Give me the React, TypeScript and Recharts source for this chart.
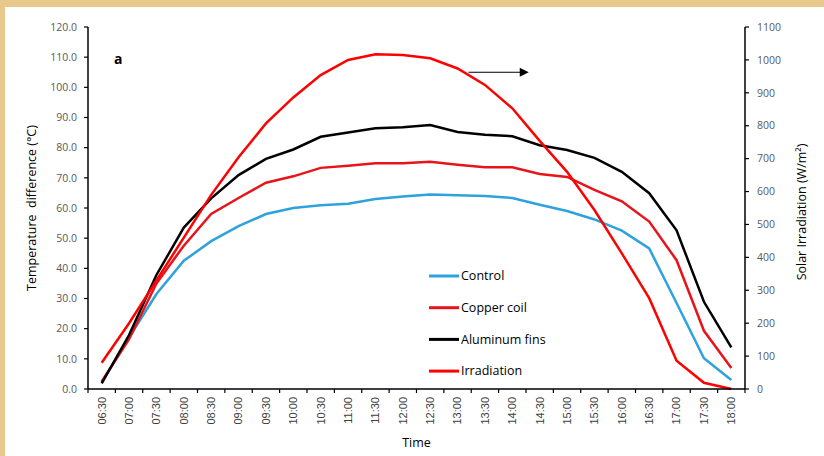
import React from "react";
import { LineChart, Line, XAxis, YAxis, ReferenceLine } from "recharts";

const times = [
  "06:30", "07:00", "07:30", "08:00", "08:30", "09:00", "09:30", "10:00",
  "10:30", "11:00", "11:30", "12:00", "12:30", "13:00", "13:30", "14:00",
  "14:30", "15:00", "15:30", "16:00", "16:30", "17:00", "17:30", "18:00",
];
const control = [2.2, 17.0, 31.5, 42.5, 49.0, 54.0, 58.0, 60.0, 60.9, 61.4, 63.0, 63.8, 64.5, 64.2, 64.0, 63.3, 61.1, 59.0, 56.2, 52.5, 46.6, 28.5, 10.2, 3.0];
const copperCoil = [2.5, 16.5, 35.0, 47.5, 58.0, 63.3, 68.4, 70.5, 73.3, 74.0, 74.8, 74.8, 75.3, 74.3, 73.5, 73.5, 71.3, 70.3, 66.0, 62.2, 55.5, 42.7, 19.3, 7.0];
const aluminumFins = [1.9, 17.9, 37.8, 53.5, 63.2, 70.9, 76.3, 79.4, 83.6, 85.0, 86.4, 86.8, 87.5, 85.2, 84.3, 83.8, 80.8, 79.2, 76.6, 72.0, 64.9, 52.6, 28.9, 13.8];
const irradiation = [80, 200, 330, 460, 590, 704, 807, 886, 954, 1000, 1017, 1015, 1005, 974, 924, 853, 754, 660, 544, 412, 276, 86, 19, 0];

const series = [
  { key: "control", name: "Control", color: "#2ea2dc", axis: "left" },
  { key: "copper", name: "Copper coil", color: "#e8141c", axis: "left" },
  { key: "aluminum", name: "Aluminum fins", color: "#000000", axis: "left" },
  { key: "irr", name: "Irradiation", color: "#ff0000", axis: "right" },
];

const leftTicks = [0, 10, 20, 30, 40, 50, 60, 70, 80, 90, 100, 110, 120];
const rightTicks = [0, 100, 200, 300, 400, 500, 600, 700, 800, 900, 1000, 1100];
const centerTicks = times.map((_, i) => i + 0.5);

const arrowSegment = [
  { x: 13.9, y: 105 },
  { x: 16.1, y: 105 },
];

const data = times.map((t, i) => ({
  x: i + 0.5,
  time: t,
  control: control[i],
  copper: copperCoil[i],
  aluminum: aluminumFins[i],
  irr: irradiation[i],
}));

const tickFont = "'Open Sans', 'DejaVu Sans', sans-serif";

const TimeTick = (props: any) => {
  const { x, y, payload, width } = props;
  const idx = Math.round(payload.value - 0.5);
  const hb = (width || 657) / (2 * times.length);
  const ty = y + 8;
  return (
    <g>
      <line x1={x - hb} x2={x - hb} y1={y} y2={y + 4} stroke="#000" strokeWidth={1.2} />
      {idx === times.length - 1 && (
        <line x1={x + hb} x2={x + hb} y1={y} y2={y + 4} stroke="#000" strokeWidth={1.2} />
      )}
      <text
        x={x}
        y={ty}
        transform={`rotate(-90, ${x}, ${ty})`}
        textAnchor="end"
        dy="0.35em"
        fontSize={11}
        fill="#404040"
        fontFamily="'Liberation Sans', Arial, sans-serif"
      >
        {times[idx]}
      </text>
    </g>
  );
};

const ArrowShape = (props: any) => {
  const { x1, y1, x2, y2 } = props;
  if (x1 == null || x2 == null) return null;
  return (
    <g>
      <line x1={x1} y1={y1} x2={x2 - 8} y2={y2} stroke="#000" strokeWidth={1} />
      <polygon points={`${x2},${y2} ${x2 - 9},${y2 - 4.5} ${x2 - 9},${y2 + 4.5}`} fill="#000" />
    </g>
  );
};

const LeftTitle = (props: any) => {
  const vb = props.viewBox;
  const cx = vb.x + 32;
  const cy = vb.y + vb.height / 2;
  return (
    <text
      x={cx}
      y={cy}
      transform={`rotate(-90, ${cx}, ${cy})`}
      textAnchor="middle"
      dy="0.35em"
      fontSize={12.5}
      fill="#000"
      fontFamily={tickFont}
      style={{ whiteSpace: "pre" }}
    >
      {"Temperature  difference (°C)"}
    </text>
  );
};

const RightTitle = (props: any) => {
  const vb = props.viewBox;
  const cx = vb.x + 57;
  const cy = vb.y + vb.height / 2 + 4;
  return (
    <text
      x={cx}
      y={cy}
      transform={`rotate(-90, ${cx}, ${cy})`}
      textAnchor="middle"
      dy="0.35em"
      fontSize={12.5}
      fill="#000"
      fontFamily={tickFont}
    >
      {"Solar Irradiation (W/m²)"}
    </text>
  );
};

const TimeTitle = (props: any) => {
  const vb = props.viewBox;
  const cx = vb.x + vb.width / 2;
  return (
    <text x={cx} y={vb.y + 54} textAnchor="middle" dy="0.35em" fontSize={12.5} fill="#000" fontFamily={tickFont}>
      Time
    </text>
  );
};

const legendX = 429;
const legendY = 276;
const legendGap = 31.7;

export default function App() {
  return (
    <div style={{ position: "relative", width: 824, height: 456, background: "#e8c98b", overflow: "hidden" }}>
      <style>{"html, body { margin: 0; padding: 0; overflow: hidden; }"}</style>
      <div style={{ position: "absolute", left: 5, top: 7, width: 819, height: 449, background: "#ffffff" }} />
      <div style={{ position: "absolute", left: 0, top: 0 }}>
        <LineChart width={824} height={456} data={data} margin={{ top: 27, right: 0, bottom: 0, left: 0 }}>
          <XAxis
            xAxisId="lab"
            type="number"
            dataKey="x"
            domain={[0, 24]}
            ticks={centerTicks}
            interval={0}
            tick={<TimeTick />}
            tickSize={0}
            tickMargin={0}
            height={67}
            axisLine={{ stroke: "#000", strokeWidth: 1.5 }}
            tickLine={false}
            allowDataOverflow
            label={{ content: <TimeTitle /> }}
          />
          <YAxis
            yAxisId="left"
            width={88}
            domain={[0, 120]}
            ticks={leftTicks}
            interval={0}
            tickFormatter={(v: number) => v.toFixed(1)}
            tick={{ fontSize: 10.5, fill: "#595959", fontFamily: tickFont }}
            tickSize={4}
            tickMargin={7}
            axisLine={{ stroke: "#000", strokeWidth: 1.5 }}
            tickLine={{ stroke: "#000", strokeWidth: 1.2 }}
            label={{ content: <LeftTitle /> }}
          />
          <YAxis
            yAxisId="right"
            orientation="right"
            width={79}
            domain={[0, 1100]}
            ticks={rightTicks}
            interval={0}
            tick={{ fontSize: 10.5, fill: "#595959", fontFamily: tickFont, textAnchor: "start" }}
            tickSize={4}
            tickMargin={8}
            axisLine={{ stroke: "#000", strokeWidth: 1.5 }}
            tickLine={{ stroke: "#000", strokeWidth: 1.2 }}
            label={{ content: <RightTitle /> }}
          />
          {series.map((s) => (
            <Line
              key={s.key}
              xAxisId="lab"
              yAxisId={s.axis}
              dataKey={s.key}
              name={s.name}
              stroke={s.color}
              strokeWidth={2.5}
              dot={false}
              isAnimationActive={false}
            />
          ))}
          <ReferenceLine xAxisId="lab" yAxisId="left" segment={arrowSegment} shape={ArrowShape} />
          <g>
            {series.map((s, i) => (
              <g key={s.key}>
                <line
                  x1={legendX}
                  x2={legendX + 30}
                  y1={legendY + i * legendGap}
                  y2={legendY + i * legendGap}
                  stroke={s.color}
                  strokeWidth={3}
                />
                <text
                  x={legendX + 32}
                  y={legendY + i * legendGap}
                  dy="0.35em"
                  fontSize={12.5}
                  fill="#000"
                  fontFamily={tickFont}
                >
                  {s.name}
                </text>
              </g>
            ))}
          </g>
          <text x={114} y={64} fontSize={14} fontWeight="bold" fill="#000" fontFamily={tickFont}>a</text>
        </LineChart>
      </div>
    </div>
  );
}
